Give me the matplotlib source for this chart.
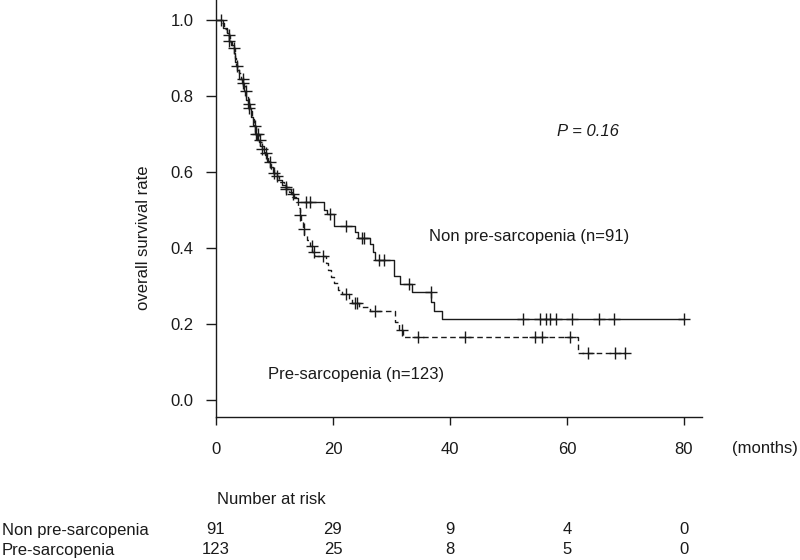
import numpy as np
import matplotlib
matplotlib.use("Agg")
import matplotlib.pyplot as plt

plt.rcParams['font.family'] = ['Liberation Sans', 'DejaVu Sans']

# ---- data ----
# Non pre-sarcopenia (solid)
non_times = [0, 1.2, 1.8, 2.2, 2.6, 3.0, 3.3, 3.6, 4.0, 4.5, 4.8, 5.2, 5.5, 5.9, 6.3,
             6.6, 7.0, 7.6, 8.2, 8.7, 9.2, 9.8, 10.4, 11.2, 12.0, 12.8, 13.4, 14.0,
             18.5, 19.0, 20.1, 23.8, 24.2, 26.3, 26.9, 27.2, 30.4, 31.5, 33.5, 36.8,
             37.3, 38.6]
non_surv = [1.0, 0.978, 0.967, 0.945, 0.934, 0.912, 0.89, 0.868, 0.846, 0.835, 0.813,
            0.79, 0.768, 0.745, 0.723, 0.70, 0.685, 0.668, 0.65, 0.63, 0.612, 0.598,
            0.58, 0.567, 0.556, 0.543, 0.531, 0.52, 0.50, 0.489, 0.458, 0.442, 0.426,
            0.41, 0.39, 0.368, 0.326, 0.305, 0.284, 0.258, 0.234, 0.213]
non_end = 80.0
non_censor = [0.9, 2.3, 4.6, 5.1, 5.7, 6.8, 7.5, 8.6, 10.0, 12.0, 13.2, 15.4, 16.0,
              19.5, 22.2, 25.0, 25.3, 27.9, 28.7, 33.0, 36.75, 52.5, 55.4, 56.4,
              57.1, 58.1, 60.9, 65.5, 68.0, 80.0]

# Pre-sarcopenia (dashed)
pre_times = [0, 0.8, 1.3, 1.8, 2.4, 2.8, 3.2, 3.5, 3.9, 4.3, 4.7, 5.0, 5.4, 5.8, 6.1,
             6.5, 6.9, 7.3, 7.8, 8.4, 8.9, 9.4, 10.0, 10.8, 11.6, 12.4, 13.0, 13.6,
             14.0, 14.3, 14.6, 14.9, 15.1, 15.5, 16.0, 16.5, 16.9, 18.8, 19.2, 19.6,
             20.1, 20.8, 21.5, 22.8, 23.3, 24.5, 26.3, 30.6, 31.3, 32.0, 61.9]
pre_surv = [1.0, 0.992, 0.976, 0.96, 0.943, 0.925, 0.90, 0.88, 0.86, 0.845, 0.825,
            0.80, 0.78, 0.76, 0.74, 0.72, 0.70, 0.68, 0.66, 0.645, 0.625, 0.607, 0.59,
            0.574, 0.56, 0.548, 0.535, 0.522, 0.505, 0.488, 0.47, 0.45, 0.435, 0.42,
            0.405, 0.39, 0.378, 0.36, 0.343, 0.325, 0.308, 0.29, 0.279, 0.265, 0.255,
            0.246, 0.235, 0.205, 0.185, 0.166, 0.124]
pre_end = 70.0
pre_censor = [2.3, 3.1, 3.6, 4.6, 5.7, 6.6, 7.2, 7.9, 9.2, 10.5, 12.0, 14.4, 15.0,
              16.4, 16.7, 18.3, 22.2, 23.8, 24.1, 27.2, 31.8, 34.5, 42.6, 54.5, 55.7,
              60.5, 63.6, 68.2, 69.9]

xticks = [0, 20, 40, 60, 80]
yticks = [0.0, 0.2, 0.4, 0.6, 0.8, 1.0]
risk_groups = ["Non pre-sarcopenia", "Pre-sarcopenia"]
risk_non = [91, 29, 9, 4, 0]
risk_pre = [123, 25, 8, 5, 0]

# ---- figure ----
W, H = 800, 560
fig = plt.figure(figsize=(8, 5.6), dpi=100)
x0, x1 = 216, 702
ytop, ybot = 0, 417
ax = fig.add_axes([x0 / W, 1 - ybot / H, (x1 - x0) / W, (ybot - ytop) / H])

ink = '#1a1a1a'


def step_value(times, surv, t):
    i = np.searchsorted(times, t, side='right') - 1
    return np.asarray(surv)[i]


def draw(times, surv, end, censor, ls):
    tt = list(times) + [end]
    ss = list(surv) + [surv[-1]]
    ax.step(tt, ss, where='post', color=ink, lw=1.0, linestyle=ls)
    cs = [step_value(times, surv, c) for c in censor]
    ax.plot(censor, cs, linestyle='none', marker='+', markersize=9,
            markeredgewidth=1.0, color=ink)


draw(non_times, non_surv, non_end, non_censor, '-')
draw(pre_times, pre_surv, pre_end, pre_censor, (0, (4, 2.5)))

ax.set_xlim(0, 83.1)
ax.set_ylim(-0.0447, 1.0526)
ax.spines['top'].set_visible(False)
ax.spines['right'].set_visible(False)
for s in ['left', 'bottom']:
    ax.spines[s].set_color(ink)
    ax.spines[s].set_linewidth(1.0)
ax.set_xticks(xticks)
ax.set_yticks(yticks)
ax.set_xticklabels([str(v) for v in xticks])
ax.set_yticklabels([f"{v:.1f}" for v in yticks])
ax.tick_params(axis='x', length=6, width=1.0, colors=ink, labelsize=12, pad=12)
ax.tick_params(axis='y', length=7, width=1.0, colors=ink, labelsize=12, pad=9)

fs = 12
fig.text(143 / W, 1 - 238 / H, "overall survival rate", rotation=90,
         ha='center', va='center', fontsize=fs, color=ink)
fig.text(732 / W, 1 - 448 / H, "(months)", ha='left', va='center',
         fontsize=fs, color=ink)
fig.text(557 / W, 1 - 132 / H, "P = 0.16", ha='left', va='center',
         fontsize=fs, style='italic', color=ink)
fig.text(429 / W, 1 - 237 / H, "Non pre-sarcopenia (n=91)", ha='left',
         va='center', fontsize=fs, color=ink)
fig.text(268 / W, 1 - 375 / H, "Pre-sarcopenia (n=123)", ha='left',
         va='center', fontsize=fs, color=ink)

# Number at risk table
fig.text(217 / W, 1 - 499 / H, "Number at risk", ha='left', va='center',
         fontsize=fs, color=ink)
row_y = [530, 550]
for name, ry in zip(risk_groups, row_y):
    fig.text(2 / W, 1 - ry / H, name, ha='left', va='center', fontsize=fs, color=ink)
for vals, ry in zip([risk_non, risk_pre], row_y):
    for xt, v in zip(xticks, vals):
        xd = ax.transData.transform((xt, 0))[0]
        fig.text(xd / W, 1 - ry / H, str(v), ha='center', va='center',
                 fontsize=fs, color=ink)

fig.savefig("out.png", dpi=100)
